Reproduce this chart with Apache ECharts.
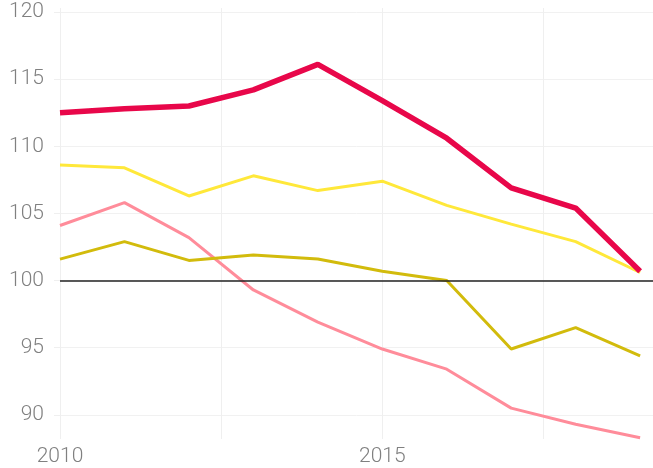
<!DOCTYPE html>
<html>
<head>
<meta charset="utf-8" />
<script src="https://cdn.jsdelivr.net/npm/echarts@6/dist/echarts.min.js"></script>
<style>
  html, body { margin: 0; padding: 0; background: #fff; }
  #main { width: 653px; height: 468px; }
</style>
</head>
<body>
<div id="main"></div>
<script>
// years on the x axis
const years = [2010, 2011, 2012, 2013, 2014, 2015, 2016, 2017, 2018, 2019];

// index values
const redValues = [112.5, 112.8, 113.0, 114.2, 116.1, 113.4, 110.6, 106.9, 105.4, 100.7];
const yellowValues = [108.6, 108.4, 106.3, 107.8, 106.7, 107.4, 105.6, 104.2, 102.9, 100.6];
const oliveValues = [101.6, 102.9, 101.5, 101.9, 101.6, 100.7, 100.0, 94.9, 96.5, 94.4];
const pinkValues = [104.1, 105.8, 103.2, 99.3, 96.9, 94.9, 93.4, 90.5, 89.3, 88.3];

const baseline = 100;

function pairs(vals) {
  return years.map((y, i) => [y, vals[i]]);
}

let chartDom = document.getElementById("main");
let myChart = echarts.init(chartDom);
let option;

const labelFont = {
  color: "#808080",
  fontSize: 21,
  fontWeight: 300,
  fontFamily: "Roboto, 'Noto Sans', sans-serif",
};

option = {
  animation: false,
  grid: {
    left: 60,
    right: 0,
    top: 8,
    bottom: 29,
  },
  xAxis: {
    type: "value",
    min: 2010,
    max: 2019.2,
    interval: 2.5,
    axisLine: { show: false },
    axisTick: { show: false },
    axisLabel: {
      ...labelFont,
      margin: 7,
      showMaxLabel: false,
      formatter: (v) => (Number.isInteger(v) ? String(v) : ""),
    },
    splitLine: {
      show: true,
      showMaxLine: false,
      lineStyle: { color: "#efefef", width: 1 },
    },
  },
  yAxis: {
    type: "value",
    min: 88.2,
    max: 120.3,
    splitNumber: 6,
    axisLine: { show: false },
    axisTick: {
      show: true,
      length: 6,
      lineStyle: { color: "#efefef" },
    },
    axisLabel: {
      ...labelFont,
      margin: 16,
      showMinLabel: false,
      showMaxLabel: false,
    },
    splitLine: {
      show: true,
      showMinLine: false,
      showMaxLine: false,
      lineStyle: { color: "#f1f1f1", width: 1 },
    },
  },
  series: [
    {
      type: "line",
      data: pairs(pinkValues),
      symbol: "none",
      lineStyle: { color: "#ff8c9a", width: 3 },
      z: 2,
    },
    {
      type: "line",
      data: pairs(oliveValues),
      symbol: "none",
      lineStyle: { color: "#d2bb0c", width: 3 },
      z: 3,
      markLine: {
        silent: true,
        symbol: "none",
        label: { show: false },
        lineStyle: { color: "#222", width: 1.5, type: "solid" },
        data: [{ yAxis: baseline }],
      },
    },
    {
      type: "line",
      data: pairs(yellowValues),
      symbol: "none",
      lineStyle: { color: "#ffe83a", width: 3 },
      z: 4,
    },
    {
      type: "line",
      data: pairs(redValues),
      symbol: "none",
      lineStyle: { color: "#e8074a", width: 5.5 },
      z: 5,
    },
  ],
};
option && myChart.setOption(option);
</script>
</body>
</html>
